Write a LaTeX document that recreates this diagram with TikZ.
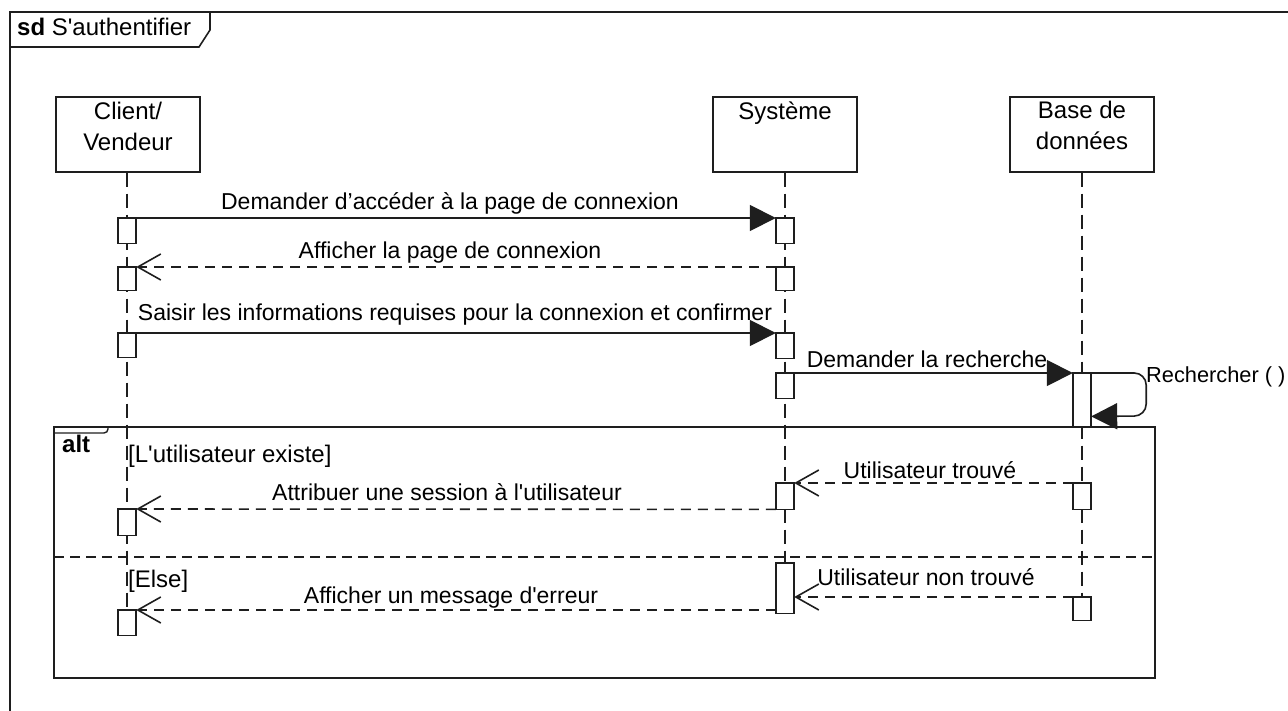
\documentclass[tikz,border=0pt]{standalone}
\usepackage{fontspec}
\setmainfont{Liberation Sans}[Ligatures=TeXOff]
\usetikzlibrary{arrows.meta}
\definecolor{ink}{HTML}{1E1E1E}

\tikzset{
  frame/.style={draw=ink, line width=1.6pt},
  headbox/.style={draw=ink, line width=1.6pt, fill=white, minimum width=144pt,
    minimum height=75pt, inner sep=0pt, anchor=north},
  act/.style={minimum width=18pt, inner sep=0pt, anchor=north},
  lifeline/.style={draw=ink, line width=1.6pt, dash pattern=on 14pt off 7pt},
  actbox/.style={draw=ink, line width=1.6pt, fill=white},
  syncmsg/.style={draw=ink, line width=1.6pt, -{Triangle[length=26pt,width=26pt]}},
  retmsg/.style={draw=ink, line width=1.6pt, dash pattern=on 10pt off 7pt,
    -{Straight Barb[length=23pt,width=26pt]}},
  divider/.style={draw=ink, line width=1.6pt, dash pattern=on 10pt off 6pt},
  msgtext/.style={font=\fontsize{23}{28}\selectfont, inner sep=0pt, anchor=base},
  headtext/.style={font=\fontsize{24}{31}\selectfont, inner sep=0pt, anchor=base, align=center},
  guardtext/.style={font=\fontsize{24}{31}\selectfont, inner sep=0pt, anchor=base west},
}

\begin{document}
\begin{tikzpicture}[x=1pt, y=-1pt]
  \useasboundingbox (0,0) rectangle (1288,711);
  \clip (0,0) rectangle (1288,711);

  % diagram frame and its name tab
  \draw[frame] (10,12) rectangle (1300,720);
  \draw[frame] (10,47) -- (199,47) -- (210,30) -- (210,12);
  \node[guardtext] (sdname) at (17,36) {\textbf{sd} S'authentifier};

  % lifeline heads (base anchor sits on the last text line)
  \node[headbox] (hc) at (128,96) {};
  \node[headbox] (hs) at (785,96) {};
  \node[headbox] (hd) at (1082,96) {};
  \node[headtext] (tc) at (128,151) {Client/\\Vendeur};
  \node[headtext] (ts) at (785,120) {Système};
  \node[headtext] (td) at (1082,150) {Base de\\données};

  % activations: client
  \node[act, minimum height=25pt] (c1) at (127,218) {};
  \node[act, minimum height=23pt] (c2) at (127,267) {};
  \node[act, minimum height=24pt] (c3) at (127,333) {};
  \node[act, minimum height=26pt] (c4) at (127,509) {};
  \node[act, minimum height=25pt] (c5) at (127,610) {};
  % activations: system
  \node[act, minimum height=25pt] (s1) at (785,218) {};
  \node[act, minimum height=23pt] (s2) at (785,267) {};
  \node[act, minimum height=25pt] (s3) at (785,333) {};
  \node[act, minimum height=25pt] (s4) at (785,373) {};
  \node[act, minimum height=26pt] (s5) at (785,483) {};
  \node[act, minimum height=50pt] (s6) at (785,563) {};
  % activations: database
  \node[act, minimum height=54pt] (d1) at (1082,373) {};
  \node[act, minimum height=26pt] (d2) at (1082,483) {};
  \node[act, minimum height=23pt] (d3) at (1082,597) {};

  % lifelines
  \draw[lifeline] (hc.south -| c1.north) -- (c5.south);
  \draw[lifeline] (hs.south -| s1.north) -- (s6.south);
  \draw[lifeline] (hd.south -| d1.north) -- (d3.south);

  % activation bars on top of the lifelines
  \foreach \n in {c1,c2,c3,c4,c5,s1,s2,s3,s4,s5,s6,d1,d2,d3}
    \draw[actbox] (\n.north west) rectangle (\n.south east);

  % alt fragment
  \draw[frame] (54,427) rectangle (1155,678);
  \draw[draw=ink, line width=1.4pt, rounded corners=4pt] (108,427) -- (108,433) -- (54,433);
  \node[guardtext] (altname) at (62,452) {\textbf{alt}};
  \draw[divider] (54,557) -- (1155,557);
  \node[guardtext] (g1) at (128,462) {[L'utilisateur existe]};
  \node[guardtext] (g2) at (128,587) {[Else]};

  % messages
  \draw[syncmsg] (c1.north east) -- (s1.north west);
  \node[msgtext] (m1) at (450,210) {Demander d’accéder à la page de connexion};

  \draw[retmsg] (s2.north west) -- (c2.north east);
  \node[msgtext] (m2) at (450,259) {Afficher la page de connexion};

  \draw[syncmsg] (c3.north east) -- (s3.north west);
  \node[msgtext] (m3) at (455,320) {Saisir les informations requises pour la connexion et confirmer};

  \draw[syncmsg] (s4.north east) -- (d1.north west);
  \node[msgtext] (m4) at (927,367) {Demander la recherche};

  \draw[syncmsg, rounded corners=12pt] (d1.north east) -- ++(55,0) -- ++(0,43)
    -- ([yshift=11pt]d1.south east);
  \node[msgtext, anchor=base west, font=\fontsize{21.8}{26}\selectfont] (m5) at (1146,382) {Rechercher ( )};

  \draw[retmsg] (d2.north west) -- (s5.north east);
  \node[msgtext] (m6) at (930,478) {Utilisateur trouvé};

  \draw[retmsg] (s5.south west) -- (c4.north east);
  \node[msgtext] (m7) at (447,500) {Attribuer une session à l'utilisateur};

  \draw[retmsg] (d3.north west) -- (d3.north west -| s6.east);
  \node[msgtext] (m8) at (926,585) {Utilisateur non trouvé};

  \draw[retmsg] (c5.north east -| s6.west) -- (c5.north east);
  \node[msgtext] (m9) at (451,603) {Afficher un message d'erreur};
\end{tikzpicture}
\end{document}
